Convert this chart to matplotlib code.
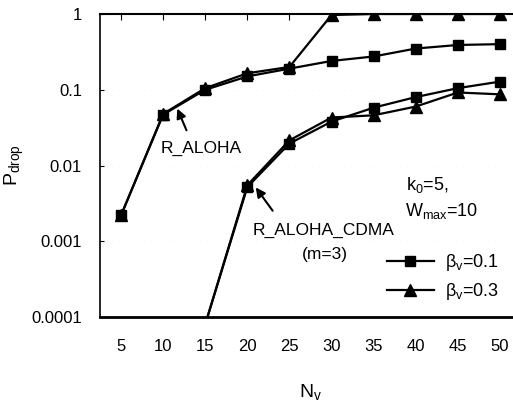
import matplotlib
matplotlib.use('Agg')
import matplotlib.pyplot as plt

plt.rcParams['font.family'] = ['Liberation Sans', 'DejaVu Sans']
plt.rcParams['mathtext.fontset'] = 'custom'
plt.rcParams['mathtext.rm'] = 'Liberation Sans'
plt.rcParams['mathtext.it'] = 'Liberation Sans'

# number of voice users
nv = [5, 10, 15, 20, 25, 30, 35, 40, 45, 50]

# R_ALOHA
aloha_b01 = [0.0022, 0.047, 0.10, 0.15, 0.19, 0.24, 0.275, 0.35, 0.39, 0.40]
aloha_b03 = [0.0022, 0.048, 0.105, 0.165, 0.20, 0.97, 1.0, 1.0, 1.0, 1.0]

# R_ALOHA_CDMA (m=3), starts at Nv=15 (below the plotted range)
nv_cdma = [15, 20, 25, 30, 35, 40, 45, 50]
cdma_b01 = [8e-5, 0.0052, 0.0195, 0.038, 0.058, 0.080, 0.105, 0.128]
cdma_b03 = [8e-5, 0.0055, 0.0215, 0.043, 0.046, 0.060, 0.092, 0.087]

yticks = [0.0001, 0.001, 0.01, 0.1, 1]
ytick_labels = ['0.0001', '0.001', '0.01', '0.1', '1']

fig = plt.figure(figsize=(5.13, 4.08), dpi=100)
ax = fig.add_axes([100 / 513, 91 / 408, 421 / 513, 303 / 408])

sq = dict(color='black', marker='s', markersize=7.5, lw=1.6)
tri = dict(color='black', marker='^', markersize=8, lw=1.6)

ax.plot(nv, aloha_b01, label=r'$\beta_v$=0.1', **sq)
ax.plot(nv, aloha_b03, label=r'$\beta_v$=0.3', **tri)
ax.plot(nv_cdma, cdma_b01, **sq)
ax.plot(nv_cdma, cdma_b03, **tri)

ax.set_yscale('log')
ax.set_ylim(0.0001, 1)
ax.set_xlim(2.5, 52.5)
ax.set_xticks(nv)
ax.set_xticklabels([str(v) for v in nv])
ax.set_yticks(yticks)
ax.set_yticklabels(ytick_labels)
ax.minorticks_off()

ax.spines['right'].set_visible(False)
ax.spines['left'].set_linewidth(1.2)
ax.spines['top'].set_linewidth(1.5)
ax.spines['bottom'].set_linewidth(2)
ax.tick_params(axis='x', direction='in', length=4, pad=16, labelsize=12,
               top=True, bottom=False)
ax.tick_params(axis='y', direction='in', length=3, pad=13, labelsize=12)
ax.grid(axis='y', color='#e6e6e6', lw=0.5, ls=(0, (1, 8)))

ax.set_xlabel(r'$\mathrm{N_v}$', fontsize=14, labelpad=20)
ax.set_ylabel(r'$\mathrm{P_{drop}}$', fontsize=14, labelpad=4)

# annotations
ax.annotate('', xy=(11.55, 0.061), xytext=(12.9, 0.027),
            arrowprops=dict(arrowstyle='-|>', color='black', lw=1.5,
                            mutation_scale=14))
ax.text(14.5, 0.017, 'R_ALOHA', ha='center', va='center', fontsize=12.5)

ax.annotate('', xy=(20.8, 0.0055), xytext=(23.2, 0.00236),
            arrowprops=dict(arrowstyle='-|>', color='black', lw=1.5,
                            mutation_scale=14))
ax.text(29.0, 0.0014, 'R_ALOHA_CDMA', ha='center', va='center', fontsize=12.5)
ax.text(29.2, 0.00066, '(m=3)', ha='center', va='center', fontsize=12.5)

ax.text(38.9, 0.0055, r'$\mathrm{k_0}$=5,', ha='left', va='center', fontsize=13)
ax.text(38.7, 0.0025, r'$\mathrm{W_{max}}$=10', ha='left', va='center', fontsize=13)

ax.legend(loc='lower right', bbox_to_anchor=(0.985, -0.005), frameon=False,
          fontsize=13, handlelength=2.6, handletextpad=0.6, labelspacing=0.45)

fig.savefig('out.png', dpi=100)
